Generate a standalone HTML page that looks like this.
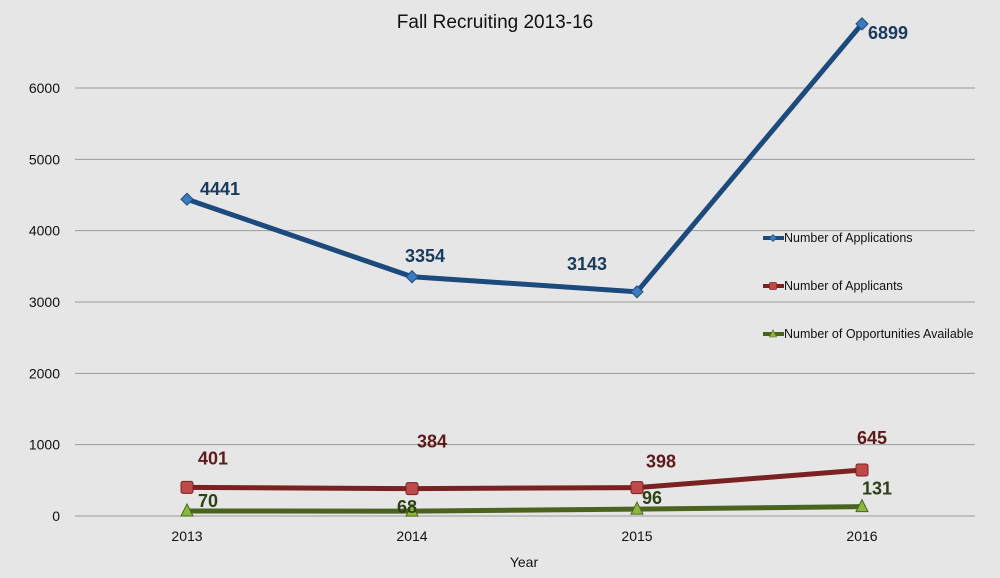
<!DOCTYPE html>
<html><head><meta charset="utf-8"><style>
body{margin:0;background:#e6e6e6;}
svg{display:block;font-family:"Liberation Sans",sans-serif;}
</style></head><body>
<svg id="chart" width="1000" height="578">
<rect width="1000" height="578" fill="#e6e6e6"/>
<text x="495" y="28" text-anchor="middle" font-size="19" fill="#111">Fall Recruiting 2013-16</text>
<g id="grid"></g><g id="series"></g>
<text x="524" y="567" text-anchor="middle" font-size="14" fill="#111">Year</text>
<g id="legend"></g>
</svg>
<script>
const categories=["2013","2014","2015","2016"];
const applications=[4441,3354,3143,6899];
const applicants=[401,384,398,645];
const opportunities=[70,68,96,131];
const yTicks=[0,1000,2000,3000,4000,5000,6000];
const NS="http://www.w3.org/2000/svg";
function mk(t,a,p){const e=document.createElementNS(NS,t);for(const k in a)e.setAttribute(k,a[k]);p.appendChild(e);return e;}
function xS(i){return 187+i*225;}
function yS(v){return 516-v*0.07133;}
const grid=document.getElementById('grid');
yTicks.forEach(v=>{
 const l=mk('line',{x1:75,x2:975,y1:yS(v),y2:yS(v),stroke:'#9a9a9a','stroke-width':1},grid);
 
 
 const t=mk('text',{x:60,y:yS(v)+5,'text-anchor':'end','font-size':14,fill:'#111'},grid);t.textContent=v;
 
 
});
categories.forEach((c,i)=>{
 const t=mk('text',{x:xS(i),y:541,'text-anchor':'middle','font-size':14,fill:'#111'},grid);t.textContent=c;
 
 
});
const S=document.getElementById('series');
const defs=[
 {d:applications,line:'#1d4a7c',mark:'#3a7cc0',lab:'#1a3a5e',shape:'diamond',name:'applications',off:[[13,-4],[-7,-15],[-70,-22],[6,15]]},
 {d:applicants,line:'#7a2222',mark:'#c04a4a',lab:'#5e1a1a',shape:'square',name:'applicants',off:[[11,-23],[5,-41],[9,-20],[-5,-26]]},
 {d:opportunities,line:'#4a6420',mark:'#8cb83a',lab:'#2e4016',shape:'triangle',name:'opportunities',off:[[11,-4],[-15,2],[5,-5],[0,-12]]}
];
function marker(shape,x,y,fill,g){
 if(shape==='diamond')return mk('polygon',{points:`${x},${y-6} ${x+6},${y} ${x},${y+6} ${x-6},${y}`,fill,stroke:'#1d4a7c'},g);
 if(shape==='square')return mk('rect',{x:x-6,y:y-6,width:12,height:12,rx:2,fill,stroke:'#7a2222'},g);
 return mk('polygon',{points:`${x},${y-7} ${x+6},${y+5} ${x-6},${y+5}`,fill,stroke:'#4a6420'},g);
}
defs.forEach(s=>{
 const g=mk('g',{},S);
 
 
 const p=mk('polyline',{points:s.d.map((v,i)=>xS(i)+','+yS(v)).join(' '),fill:'none',stroke:s.line,'stroke-width':5,'stroke-linejoin':'round'},g);
 
 
 s.d.forEach((v,i)=>{
  const m=marker(s.shape,xS(i),yS(v),s.mark,g);
  
  
  const t=mk('text',{x:xS(i)+s.off[i][0],y:yS(v)+s.off[i][1],'font-size':18,'font-weight':'bold',fill:s.lab},g);t.textContent=v;
  
  
 });
});
const L=document.getElementById('legend');
const names=["Number of Applications","Number of Applicants","Number of Opportunities Available"];
defs.forEach((s,i)=>{
 const y=238+i*48;
 const g=mk('g',{},L);
 
 
 mk('line',{x1:763,x2:784,y1:y,y2:y,stroke:s.line,'stroke-width':4},g);
 marker(s.shape,773,y,s.mark,g).setAttribute('transform',`translate(${773*0.4},${y*0.4}) scale(0.6)`);
 const t=mk('text',{x:784,y:y+4,'font-size':12.5,fill:'#111'},g);t.textContent=names[i];
});
</script>
</body></html>
